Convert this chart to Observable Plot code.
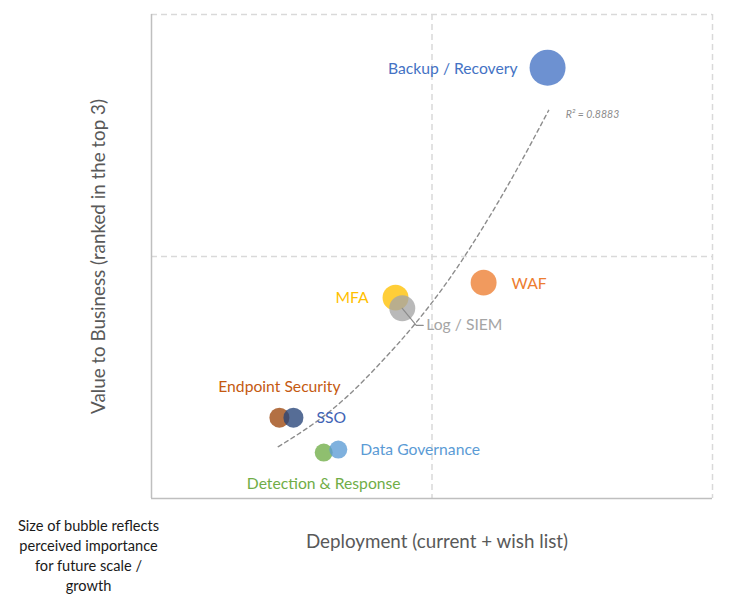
<!DOCTYPE html>
<html>
<head>
<meta charset="utf-8">
<script src="https://cdn.jsdelivr.net/npm/d3@7"></script>
<script src="https://cdn.jsdelivr.net/npm/@observablehq/plot@0.6"></script>
<style>
  html, body { margin: 0; padding: 0; background: #ffffff; }
  #chart { width: 731px; height: 611px; }
</style>
</head>
<body>
<div id="chart"></div>
<script>
// ---- Data ----
const names = ["Backup / Recovery", "WAF", "MFA", "Log / SIEM", "Endpoint Security", "SSO", "Detection & Response", "Data Governance"];
const deployment = [7.06, 5.92, 4.35, 4.47, 2.28, 2.53, 3.07, 3.33];
const businessValue = [8.90, 4.46, 4.15, 3.93, 1.67, 1.67, 0.95, 1.01];
const importance = [10, 5.2, 5.2, 5.2, 3.1, 3.1, 2.5, 2.5];

// Trendline as drawn in the reference
const trendX = [2.26, 2.87, 3.48, 4.08, 4.67, 5.28, 5.87, 6.47, 7.08];
const trendY = [1.07, 1.53, 2.10, 2.80, 3.57, 4.49, 5.53, 6.71, 8.02];
const rSquaredLabel = "R² = 0.8883";

const xTitle = "Deployment (current + wish list)";
const yTitle = "Value to Business (ranked in the top 3)";
const caption = "Size of bubble reflects\nperceived importance\nfor future scale /\ngrowth";

// ---- Styles / layout (kept separate from data) ----
const bubbleFill = {
  "Backup / Recovery": "#4472C4", "WAF": "#ED7D31", "MFA": "#FFC000", "Log / SIEM": "#A5A5A5",
  "Endpoint Security": "#9E480E", "SSO": "#264478", "Detection & Response": "#70AD47", "Data Governance": "#5B9BD5"
};
const labelStyle = {
  "Backup / Recovery":    {dx: -30, dy: 1,   anchor: "end",    color: "#4472C4"},
  "WAF":                  {dx: 28,  dy: 1,   anchor: "start",  color: "#ED7D31"},
  "MFA":                  {dx: -27, dy: 0,   anchor: "end",    color: "#FFC000"},
  "Log / SIEM":           {dx: 24,  dy: 17,  anchor: "start",  color: "#A5A5A5"},
  "Endpoint Security":    {dx: 0,   dy: -31, anchor: "middle", color: "#C55A11"},
  "SSO":                  {dx: 23,  dy: 0,   anchor: "start",  color: "#3F64B5"},
  "Detection & Response": {dx: 0,   dy: 31,  anchor: "middle", color: "#70AD47"},
  "Data Governance":      {dx: 22,  dy: 0,   anchor: "start",  color: "#5B9BD5"}
};

const W = 731, H = 611, mL = 151, mT = 14, mR = 19, mB = 113;
const xDomain = [0, 10], yDomain = [0, 10];

const bubbles = names.map((n, i) => ({name: n, x: deployment[i], y: businessValue[i], size: importance[i]}));
const trend = trendX.map((x, i) => ({x, y: trendY[i]}));

// leader line for Log / SIEM: from bubble centre to label, converted from pixel offsets
const pxX = (W - mL - mR) / (xDomain[1] - xDomain[0]);
const pxY = (H - mT - mB) / (yDomain[1] - yDomain[0]);
const logB = bubbles.find(d => d.name === "Log / SIEM");
const leader = [[0, 0], [14, 17], [21, 17]].map(([ox, oy]) => ({x: logB.x + ox / pxX, y: logB.y - oy / pxY}));

const labelMarks = bubbles.map(b => {
  const s = labelStyle[b.name];
  return Plot.text([b], {x: "x", y: "y", text: "name", dx: s.dx, dy: s.dy, textAnchor: s.anchor, fill: s.color, fontSize: 15.7});
});

const chart = Plot.plot({
  width: W, height: H,
  marginLeft: mL, marginTop: mT, marginRight: mR, marginBottom: mB,
  x: {domain: xDomain, axis: null},
  y: {domain: yDomain, axis: null},
  r: {type: "sqrt", domain: [0, 10], range: [0, 18]},
  style: {fontFamily: "Lato, 'Open Sans', sans-serif", background: "#ffffff", overflow: "visible"},
  marks: [
    Plot.ruleX([5, 10], {stroke: "#D9D9D9", strokeWidth: 1.5, strokeDasharray: "6,4"}),
    Plot.ruleY([5, 10], {stroke: "#D9D9D9", strokeWidth: 1.5, strokeDasharray: "6,4"}),
    Plot.ruleX([0], {stroke: "#BFBFBF", strokeWidth: 1.5}),
    Plot.ruleY([0], {stroke: "#BFBFBF", strokeWidth: 1.5}),
    Plot.line(trend, {x: "x", y: "y", curve: "natural", stroke: "#8C8C8C", strokeWidth: 1.4, strokeDasharray: "4,3.5"}),
    Plot.dot(bubbles, {x: "x", y: "y", r: "size", fill: d => bubbleFill[d.name], fillOpacity: 0.78, stroke: "none"}),
    Plot.line(leader, {x: "x", y: "y", stroke: "#8C8C8C", strokeWidth: 1.2, curve: "linear"}),
    ...labelMarks,
    Plot.text([rSquaredLabel], {x: trendX[trendX.length - 1], y: trendY[trendY.length - 1], dx: 17, dy: 4, textAnchor: "start", fill: "#8C8C8C", fontSize: 10.5, fontStyle: "italic", text: d => d}),
    Plot.text([xTitle], {frameAnchor: "bottom", dx: 5, dy: 43, text: d => d, fill: "#595959", fontSize: 18.8, lineAnchor: "middle"}),
    Plot.text([yTitle], {frameAnchor: "left", dx: -53, rotate: -90, text: d => d, fill: "#595959", fontSize: 18.8, textAnchor: "middle", lineAnchor: "middle"}),
    Plot.text([caption], {frameAnchor: "bottom-left", dx: -63, dy: 18, text: d => d, fill: "#1a1a1a", fontSize: 14.6, textAnchor: "middle", lineAnchor: "top", lineHeight: 1.37})
  ]
});
document.getElementById("chart").appendChild(chart);
</script>
</body>
</html>
